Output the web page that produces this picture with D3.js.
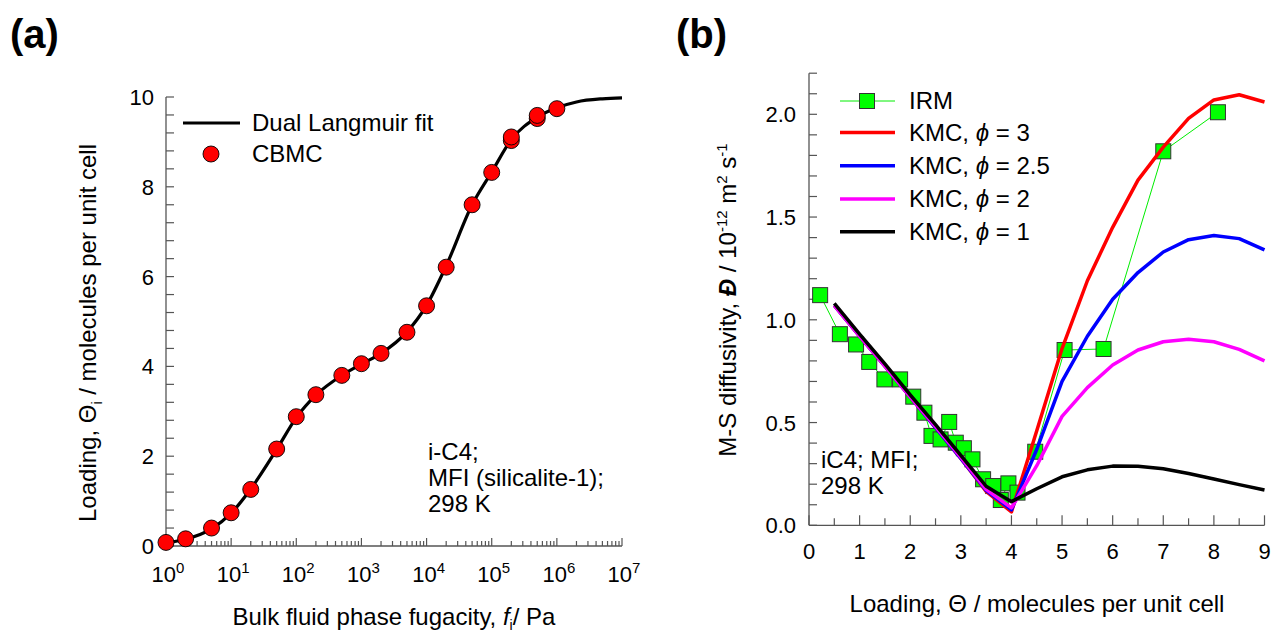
<!DOCTYPE html>
<html><head><meta charset="utf-8">
<script src="https://cdn.jsdelivr.net/npm/d3@7"></script>
<style>
body{margin:0;background:#fff;}
svg{display:block;font-family:"Liberation Sans",Arial,sans-serif;}
</style></head>
<body>
<svg id="c" width="1271" height="637"></svg>
<script>
// ---------- Panel (a) data ----------
const fitFugacity = [1,2,5,10,20,50,100,200,500,1e3,2e3,5e3,1e4,2e4,5e4,1e5,2e5,5e5,1e6,2e6,5e6,1e7];
const fitLoading  = [0.07,0.15,0.38,0.73,1.27,2.15,2.86,3.36,3.80,4.05,4.29,4.77,5.36,6.24,7.60,8.33,9.05,9.55,9.76,9.89,9.96,9.98];
const cbmcFugacity = [1,2,5,10,20,50,100,200,500,1e3,2e3,5e3,1e4,2e4,5e4,1e5,2e5,2e5,5e5,5e5,1e6];
const cbmcLoading  = [0.08,0.16,0.40,0.74,1.26,2.16,2.88,3.37,3.80,4.06,4.29,4.76,5.35,6.21,7.60,8.32,9.03,9.11,9.52,9.59,9.74];
const aYTicks = [0,2,4,6,8,10];
const aXTickExp = [0,1,2,3,4,5,6,7];

// ---------- Panel (b) data ----------
const irmLoading = [0.22,0.61,0.93,1.19,1.49,1.80,2.06,2.28,2.42,2.60,2.77,2.90,3.06,3.23,3.44,3.64,3.79,3.94,4.12,4.47,5.05,5.82,7.0,8.08];
const irmD       = [1.12,0.93,0.88,0.795,0.71,0.71,0.626,0.548,0.435,0.418,0.503,0.402,0.375,0.321,0.224,0.191,0.123,0.204,0.159,0.358,0.853,0.858,1.82,2.01];
const kmcLoading = [0.5,1,1.5,2,2.5,3,3.5,4,4.5,5,5.5,6,6.5,7,7.5,8,8.5,9];
const kmcPhi3    = [1.07,0.92,0.775,0.625,0.475,0.325,0.165,0.065,0.46,0.86,1.19,1.45,1.68,1.84,1.98,2.07,2.095,2.06];
const kmcPhi25   = [1.07,0.92,0.775,0.625,0.475,0.325,0.17,0.075,0.37,0.70,0.92,1.10,1.23,1.33,1.39,1.41,1.395,1.34];
const kmcPhi2    = [1.07,0.92,0.775,0.625,0.48,0.33,0.175,0.085,0.29,0.53,0.67,0.78,0.853,0.893,0.905,0.893,0.856,0.80];
const kmcPhi1    = [1.08,0.93,0.785,0.635,0.49,0.34,0.19,0.115,0.178,0.236,0.27,0.288,0.287,0.275,0.252,0.225,0.198,0.172];
const bYTicks = [0.0,0.5,1.0,1.5,2.0];
const bXTicks = [0,1,2,3,4,5,6,7,8,9];
const kmcSeries = [
  {label:"3",   color:"#ff0000", values:kmcPhi3},
  {label:"2.5", color:"#0000ff", values:kmcPhi25},
  {label:"2",   color:"#ff00ff", values:kmcPhi2},
  {label:"1",   color:"#000000", values:kmcPhi1}
];

const svg = d3.select("#c");
const axisColor = "#555";
const FS = 22;

// ================= Panel (a) =================
const ax = d3.scaleLog().domain([1,1e7]).range([166,622]);
const ay = d3.scaleLinear().domain([0,10]).range([546,97]);
const ga = svg.append("g");

ga.append("line").attr("x1",ax(1)).attr("x2",ax(1e7)).attr("y1",ay(0)).attr("y2",ay(0)).attr("stroke",axisColor).attr("stroke-width",1.3);
ga.append("line").attr("x1",ax(1)).attr("x2",ax(1)).attr("y1",ay(0)).attr("y2",ay(10)).attr("stroke",axisColor).attr("stroke-width",1.3);

const logTicks = [];
for (let e=0;e<7;e++){ for (let m=1;m<10;m++){ logTicks.push({v:m*Math.pow(10,e), major:m===1}); } }
logTicks.push({v:1e7,major:true});
ga.selectAll(".axt").data(logTicks).enter().append("line")
  .attr("x1",d=>ax(d.v)).attr("x2",d=>ax(d.v))
  .attr("y1",ay(0)).attr("y2",d=>ay(0)-(d.major?8:5))
  .attr("stroke",axisColor).attr("stroke-width",1.2);
const xl = ga.selectAll(".axl").data(aXTickExp).enter().append("text")
  .attr("x",d=>ax(Math.pow(10,d))+2).attr("y",582).attr("text-anchor","middle")
  .attr("font-size",FS).attr("fill","#000");
xl.append("tspan").text("10");
xl.append("tspan").attr("font-size",15).attr("dy",-9).text(d=>d);

const aMinor = d3.range(0,10.001,0.4);
ga.selectAll(".ayt").data(aMinor).enter().append("line")
  .attr("x1",ax(1)).attr("x2",ax(1)+8).attr("y1",d=>ay(d)).attr("y2",d=>ay(d))
  .attr("stroke",axisColor).attr("stroke-width",1.2);
ga.selectAll(".ayl").data(aYTicks).enter().append("text")
  .attr("x",154).attr("y",d=>ay(d)+8).attr("text-anchor","end")
  .attr("font-size",FS).text(d=>d);

const fitPts = fitFugacity.map((f,i)=>[ax(f),ay(fitLoading[i])]);
ga.append("path").attr("d",d3.line().curve(d3.curveMonotoneX)(fitPts))
  .attr("fill","none").attr("stroke","#000").attr("stroke-width",3.2);
ga.selectAll(".cb").data(cbmcFugacity).enter().append("circle")
  .attr("cx",d=>ax(d)).attr("cy",(d,i)=>ay(cbmcLoading[i])).attr("r",8)
  .attr("fill","#ff0000").attr("stroke","#000").attr("stroke-width",0.9);

ga.append("line").attr("x1",183).attr("x2",240).attr("y1",123).attr("y2",123).attr("stroke","#000").attr("stroke-width",3.2);
ga.append("text").attr("x",252).attr("y",131).attr("font-size",24).text("Dual Langmuir fit");
ga.append("circle").attr("cx",211).attr("cy",154).attr("r",8).attr("fill","#ff0000").attr("stroke","#000").attr("stroke-width",0.9);
ga.append("text").attr("x",252).attr("y",162).attr("font-size",24).text("CBMC");

[["i-C4;",460],["MFI (silicalite-1);",486],["298 K",512]].forEach(([t,y])=>{
  ga.append("text").attr("x",428).attr("y",y).attr("font-size",24).text(t);
});

const axT = ga.append("text").attr("x",394).attr("y",625).attr("text-anchor","middle").attr("font-size",24);
axT.append("tspan").text("Bulk fluid phase fugacity, ");
axT.append("tspan").attr("font-style","italic").text("f");
axT.append("tspan").attr("font-size",14).attr("dy",5).text("i");
axT.append("tspan").attr("dy",-5).text("/ Pa");

const ayT = ga.append("text").attr("transform","translate(96,333) rotate(-90)").attr("text-anchor","middle").attr("font-size",24);
ayT.append("tspan").text("Loading, Θ");
ayT.append("tspan").attr("font-size",14).attr("dy",6).text("i");
ayT.append("tspan").attr("dy",-6).text(" / molecules per unit cell");

ga.append("text").attr("x",10).attr("y",48).attr("font-size",40).attr("font-weight","bold").text("(a)");

// ================= Panel (b) =================
const bx = d3.scaleLinear().domain([0,9]).range([809,1264.5]);
const by = d3.scaleLinear().domain([0,2.2]).range([525.3,73.2]);
const gb = svg.append("g");

gb.append("line").attr("x1",bx(0)).attr("x2",bx(9)).attr("y1",by(0)).attr("y2",by(0)).attr("stroke",axisColor).attr("stroke-width",1.3);
gb.append("line").attr("x1",bx(0)).attr("x2",bx(0)).attr("y1",by(0)).attr("y2",by(2.2)).attr("stroke",axisColor).attr("stroke-width",1.3);

const bxMinor = d3.range(0,9.001,0.5);
gb.selectAll(".bxt").data(bxMinor).enter().append("line")
  .attr("x1",d=>bx(d)).attr("x2",d=>bx(d))
  .attr("y1",by(0)).attr("y2",d=>by(0)-(Math.abs(d-Math.round(d))<1e-6?10:7))
  .attr("stroke",axisColor).attr("stroke-width",1.2);
gb.selectAll(".bxl").data(bXTicks).enter().append("text")
  .attr("x",d=>bx(d)).attr("y",559).attr("text-anchor","middle").attr("font-size",FS).text(d=>d);

const byMinor = d3.range(0,2.2001,0.1);
gb.selectAll(".byt").data(byMinor).enter().append("line")
  .attr("x1",bx(0)).attr("x2",bx(0)+8).attr("y1",d=>by(d)).attr("y2",d=>by(d))
  .attr("stroke",axisColor).attr("stroke-width",1.2);
gb.selectAll(".byl").data(bYTicks).enter().append("text")
  .attr("x",796).attr("y",d=>by(d)+8).attr("text-anchor","end").attr("font-size",FS).text(d=>d.toFixed(1));

const irmPts = irmLoading.map((t,i)=>[bx(t),by(irmD[i])]);
gb.append("path").attr("d",d3.line()(irmPts)).attr("fill","none").attr("stroke","#00ee00").attr("stroke-width",1);
const sq = 15;
gb.selectAll(".irm").data(irmPts).enter().append("rect")
  .attr("x",d=>d[0]-sq/2).attr("y",d=>d[1]-sq/2).attr("width",sq).attr("height",sq)
  .attr("fill","#00ff00").attr("stroke","#333").attr("stroke-width",1);

kmcSeries.forEach(s=>{
  const pts = kmcLoading.map((t,i)=>[bx(t),by(s.values[i])]);
  gb.append("path").attr("d",d3.line()(pts)).attr("fill","none")
    .attr("stroke",s.color).attr("stroke-width",3.5).attr("stroke-linejoin","round");
});

gb.append("line").attr("x1",840).attr("x2",895).attr("y1",101).attr("y2",101).attr("stroke","#00ee00").attr("stroke-width",1);
gb.append("rect").attr("x",867-sq/2).attr("y",101-sq/2).attr("width",sq).attr("height",sq).attr("fill","#00ff00").attr("stroke","#333");
gb.append("text").attr("x",909).attr("y",109).attr("font-size",24).text("IRM");
const legY = [132.5,165.7,199,231.7];
kmcSeries.forEach((s,i)=>{
  gb.append("line").attr("x1",840).attr("x2",895).attr("y1",legY[i]).attr("y2",legY[i]).attr("stroke",s.color).attr("stroke-width",3.5);
  const t = gb.append("text").attr("x",909).attr("y",legY[i]+8).attr("font-size",24);
  t.append("tspan").text("KMC, ");
  t.append("tspan").attr("font-style","italic").text("ϕ");
  t.append("tspan").text(" = "+s.label);
});

gb.append("text").attr("x",821).attr("y",468).attr("font-size",24).text("iC4; MFI;");
gb.append("text").attr("x",821).attr("y",494).attr("font-size",24).text("298 K");

gb.append("text").attr("x",1037).attr("y",612).attr("text-anchor","middle").attr("font-size",24)
  .text("Loading, Θ / molecules per unit cell");
const byT = gb.append("text").attr("transform","translate(736,300) rotate(-90)").attr("text-anchor","middle").attr("font-size",24);
byT.append("tspan").text("M-S diffusivity, ");
byT.append("tspan").attr("font-style","italic").attr("font-weight","bold").text("Đ");
byT.append("tspan").text(" / 10");
byT.append("tspan").attr("font-size",15).attr("dy",-9).text("-12");
byT.append("tspan").attr("dy",9).text(" m");
byT.append("tspan").attr("font-size",15).attr("dy",-9).text("2");
byT.append("tspan").attr("dy",9).text(" s");
byT.append("tspan").attr("font-size",15).attr("dy",-9).text("-1");

gb.append("text").attr("x",676).attr("y",48).attr("font-size",40).attr("font-weight","bold").text("(b)");
</script>
</body></html>
